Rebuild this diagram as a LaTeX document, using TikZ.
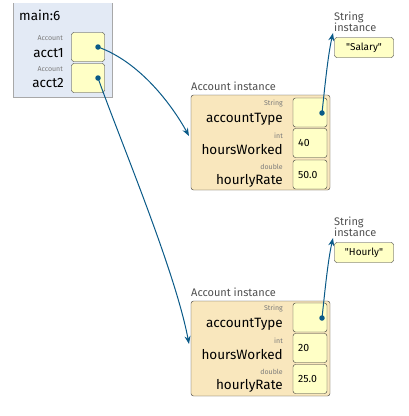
\documentclass[tikz,border=0pt]{standalone}
\usepackage{fontspec}
\setmainfont{Fira Sans}
\newfontfamily\valfont{Fira Sans}
\usetikzlibrary{arrows.meta, positioning}

\definecolor{framebg}{HTML}{E3EAF5}
\definecolor{frameline}{HTML}{A8A8A8}
\definecolor{valbg}{HTML}{FFFFC6}
\definecolor{instbg}{HTML}{F9E7BD}
\definecolor{boxline}{HTML}{333333}
\definecolor{ptrblue}{HTML}{0A5A88}
\definecolor{typegray}{HTML}{7A7A7A}
\definecolor{headgray}{HTML}{505050}

\begin{document}
\begin{tikzpicture}[
      x=1pt, y=-1pt,
      valbox/.style={rectangle, draw=boxline, fill=valbg, rounded corners=2.5pt, inner sep=0pt, outer sep=0pt,
        minimum width=34pt, minimum height=29pt},
      instbox/.style={rectangle, draw=boxline, fill=instbg, rounded corners=2.5pt, inner sep=0pt, outer sep=0pt,
        minimum width=139pt, minimum height=95pt},
      strbox/.style={rectangle, draw=boxline, fill=valbg, rounded corners=2.5pt, inner sep=0pt, outer sep=0pt,
        minimum width=59pt, minimum height=20pt, font=\valfont\fontsize{10}{12}\selectfont},
      typelbl/.style={anchor=east, inner sep=0pt, text=typegray, font=\fontsize{7}{8}\selectfont},
      fieldlbl/.style={anchor=east, inner sep=0pt, font=\fontsize{13.5}{15}\selectfont},
      headlbl/.style={anchor=west, inner sep=0pt, text=headgray, font=\fontsize{11}{13}\selectfont, align=left},
      vallbl/.style={anchor=west, inner sep=0pt, font=\fontsize{10.5}{12}\selectfont},
      dot/.style={circle, fill=ptrblue, inner sep=0pt, minimum size=5.5pt},
      ptr/.style={draw=ptrblue, line width=1pt, -{Stealth[length=8pt, width=6pt]}}
    ]
    \useasboundingbox (0,0) rectangle (409,416);

    % stack frame
    \fill[framebg] (13,3) rectangle (112,97);
    \draw[frameline] (13,3) -- (13,97) -- (112,97) -- (112,3);
    \node[anchor=west, inner sep=0pt, font=\fontsize{13.5}{15}\selectfont] (fname) at (19,15) {main:6};

    \node[typelbl] (t1) at (63,38) {Account};
    \node[fieldlbl] (acct1) at (64,53) {acct1};
    \node[typelbl] (t2) at (63,69) {Account};
    \node[fieldlbl] (acct2) at (64,83) {acct2};
    \node[valbox, minimum width=33pt] (p1) at (88,47) {};
    \node[valbox, minimum width=33pt] (p2) at (88,78) {};
    \node[dot] (d1) at (98,47) {};
    \node[dot] (d2) at (98,78) {};

    % first Account instance
    \node[instbox] (inst1) at (260.5,142.5) {};
    \node[headlbl] (h1) at (191,86) {Account instance};
    \node[valbox] (f11) at (310,112.5) {};
    \node[valbox] (f12) at (310,143) {};
    \node[valbox] (f13) at (310,174.5) {};
    \node[typelbl] at (283,104) {String};
    \node[fieldlbl] at (283,119) {accountType};
    \node[typelbl] at (283,136) {int};
    \node[fieldlbl] at (283,150) {hoursWorked};
    \node[typelbl] at (283,167) {double};
    \node[fieldlbl] at (283,181) {hourlyRate};
    \node[vallbl] at (298,143) {40};
    \node[vallbl] at (298,174.5) {50.0};
    \node[dot] (d3) at (322,113) {};

    % second Account instance
    \node[instbox] (inst2) at (260.5,348.5) {};
    \node[headlbl] (h2) at (191,292) {Account instance};
    \node[valbox] (f21) at (310,317.5) {};
    \node[valbox] (f22) at (310,348) {};
    \node[valbox] (f23) at (310,379) {};
    \node[typelbl] at (283,309) {String};
    \node[fieldlbl] at (283,324) {accountType};
    \node[typelbl] at (283,341) {int};
    \node[fieldlbl] at (283,355) {hoursWorked};
    \node[typelbl] at (283,372) {double};
    \node[fieldlbl] at (283,386) {hourlyRate};
    \node[vallbl] at (298,348) {20};
    \node[vallbl] at (298,379) {25.0};
    \node[dot] (d4) at (322,318) {};

    % String instances
    \node[headlbl] (s1) at (334,21.5) {String\\[-2pt]instance};
    \node[strbox] (str1) at (364,47.5) {"Salary"};
    \node[headlbl] (s2) at (334,226.5) {String\\[-2pt]instance};
    \node[strbox] (str2) at (364,252.5) {"Hourly"};

    \coordinate (in1) at (189,136);
    \coordinate (in2) at (189,344);
    \coordinate (sin1) at (333,33);
    \coordinate (sin2) at (333,238);

    % pointers
    \draw[ptr] (d1.center) .. controls (140,62) and (172,105) .. (in1);
    \draw[ptr] (d2.center) .. controls (120,140) and (175,270) .. (in2);
    \draw[ptr] (d3.center) .. controls (325,85) and (328,55) .. (sin1);
    \draw[ptr] (d4.center) .. controls (325,290) and (328,260) .. (sin2);
  \end{tikzpicture}
\end{document}
